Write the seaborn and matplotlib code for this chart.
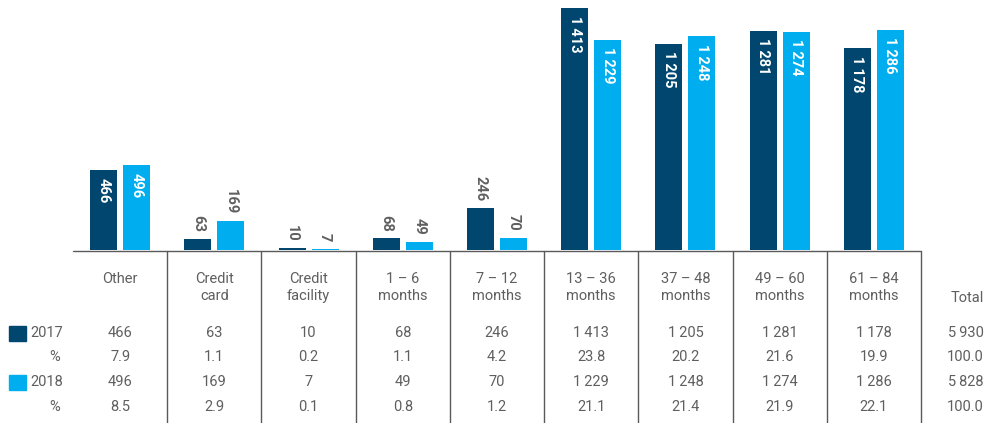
import matplotlib
matplotlib.use("Agg")
import matplotlib.pyplot as plt
import matplotlib.transforms as mtransforms
from matplotlib.patches import Rectangle
import seaborn as sns
import pandas as pd

# Loan term buckets and counts per year
categories = ["Other", "Credit\ncard", "Credit\nfacility", "1 \u2013 6\nmonths", "7 \u2013 12\nmonths",
              "13 \u2013 36\nmonths", "37 \u2013 48\nmonths", "49 \u2013 60\nmonths", "61 \u2013 84\nmonths"]
values_2017 = [466, 63, 10, 68, 246, 1413, 1205, 1281, 1178]
values_2018 = [496, 169, 7, 49, 70, 1229, 1248, 1274, 1286]
pct_2017 = ["7.9", "1.1", "0.2", "1.1", "4.2", "23.8", "20.2", "21.6", "19.9"]
pct_2018 = ["8.5", "2.9", "0.1", "0.8", "1.2", "21.1", "21.4", "21.9", "22.1"]
total_2017 = 5930
total_2018 = 5828
years = ["2017", "2018"]

DARK = "#00466e"
LIGHT = "#00aeef"
TEXT = "#5f5f5f"
LINE = "#5a5a5a"

sns.set_theme(style="white")
plt.rcParams["font.family"] = ["Roboto", "DejaVu Sans"]

W, H = 987, 423
fig = plt.figure(figsize=(W / 100, H / 100), dpi=100)
ax_left, ax_right, base_y = 73, 921, 250
ax = fig.add_axes([ax_left / W, (H - base_y) / H, (ax_right - ax_left) / W, base_y / H])

df = pd.DataFrame({
    "category": categories * 2,
    "year": [years[0]] * len(categories) + [years[1]] * len(categories),
    "value": values_2017 + values_2018,
})
sns.barplot(data=df, x="category", y="value", hue="year", order=categories,
            palette=[DARK, LIGHT], width=0.70, gap=0.18, legend=False, ax=ax,
            saturation=1, linewidth=0)

ax.set_xlim(-0.5, len(categories) - 0.5)
ax.set_ylim(0, 1460)
ax.axis("off")


def fmt(v):
    s = f"{v:,}"
    return s.replace(",", "\u2009")


# Value labels: inside tall bars, above short ones
for cont in ax.containers:
    for bar in cont:
        h = bar.get_height()
        xc = bar.get_x() + bar.get_width() / 2
        if h > 300:
            ax.annotate(fmt(int(round(h))), (xc, h), xytext=(0, -5.5), textcoords="offset points",
                        rotation=270, ha="center", va="top", color="white",
                        fontsize=10.5, fontweight="bold")
        else:
            ax.annotate(fmt(int(round(h))), (xc, h), xytext=(0, 5), textcoords="offset points",
                        rotation=270, ha="center", va="bottom", color=TEXT,
                        fontsize=10.5, fontweight="bold")

# Table area below the baseline: x in data units, y in figure pixels from top
def ypix(y):
    return (H - y) / H

trans = mtransforms.blended_transform_factory(ax.transData, fig.transFigure)
ax.plot([-0.5, len(categories) - 0.5], [ypix(base_y + 1)] * 2, transform=trans,
        color=LINE, lw=1.0, clip_on=False)
for i in range(len(categories)):
    ax.plot([i + 0.5, i + 0.5], [ypix(base_y + 1), 0], transform=trans,
            color=LINE, lw=1.0, clip_on=False)

fs = 10.5
for i, cat in enumerate(categories):
    ax.text(i, ypix(272), cat, transform=trans, ha="center", va="top",
            color=TEXT, fontsize=fs, linespacing=1.25, clip_on=False)
    ax.text(i, ypix(333), fmt(values_2017[i]), transform=trans, ha="center", va="center",
            color=TEXT, fontsize=fs, clip_on=False)
    ax.text(i, ypix(357), pct_2017[i], transform=trans, ha="center", va="center",
            color=TEXT, fontsize=fs, clip_on=False)
    ax.text(i, ypix(382), fmt(values_2018[i]), transform=trans, ha="center", va="center",
            color=TEXT, fontsize=fs, clip_on=False)
    ax.text(i, ypix(407), pct_2018[i], transform=trans, ha="center", va="center",
            color=TEXT, fontsize=fs, clip_on=False)

# Total column
tx = 984 / W
fig.text(tx, ypix(298), "Total", ha="right", va="center", color=TEXT, fontsize=fs)
fig.text(tx, ypix(333), fmt(total_2017), ha="right", va="center", color=TEXT, fontsize=fs)
fig.text(tx, ypix(357), "100.0", ha="right", va="center", color=TEXT, fontsize=fs)
fig.text(tx, ypix(382), fmt(total_2018), ha="right", va="center", color=TEXT, fontsize=fs)
fig.text(tx, ypix(407), "100.0", ha="right", va="center", color=TEXT, fontsize=fs)

# Row headers with colour keys
for y, col, label in [(333, DARK, years[0]), (382, LIGHT, years[1])]:
    fig.patches.append(Rectangle((9 / W, ypix(y + 7.5)), 17 / W, 15 / H,
                                 transform=fig.transFigure, color=col))
    fig.text(30 / W, ypix(y), label, ha="left", va="center", color=TEXT, fontsize=fs)
for y in (357, 407):
    fig.text(60 / W, ypix(y), "%", ha="right", va="center", color=TEXT, fontsize=fs)

fig.savefig("out.png", dpi=100)
